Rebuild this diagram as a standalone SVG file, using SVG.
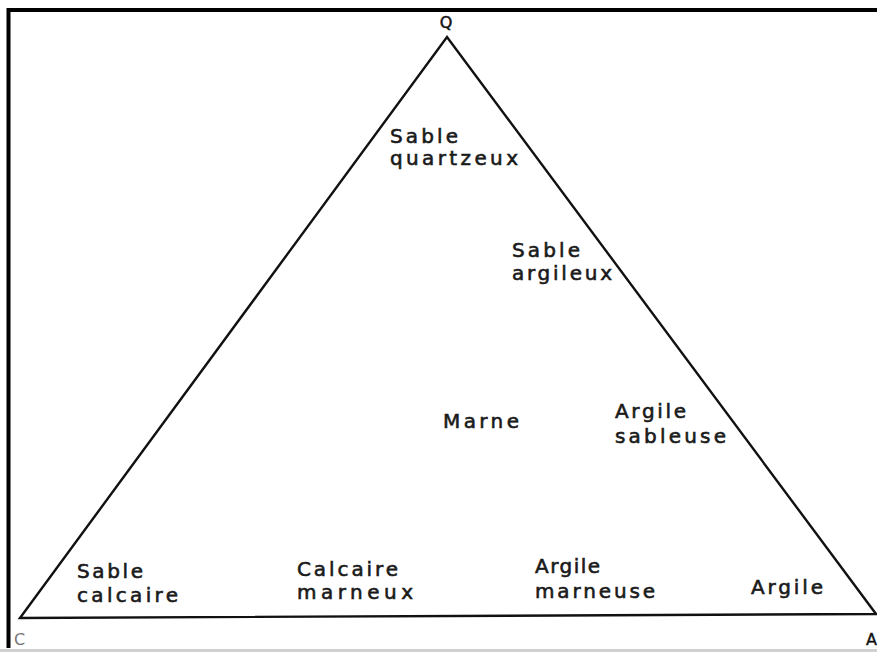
<svg xmlns="http://www.w3.org/2000/svg" width="877" height="652" viewBox="0 0 877 652">
<style>
.lbl{font-family:"DejaVu Sans","Liberation Sans",sans-serif;font-size:20px;fill:#1a1a1a;stroke:#1a1a1a;stroke-width:0.6px;}
.v{font-family:"DejaVu Sans","Liberation Sans",sans-serif;font-size:16px;}
</style>
<rect x="0" y="0" width="877" height="652" fill="#ffffff"/>
<rect x="0" y="649" width="877" height="3" fill="#d0d0d0"/>
<g id="frame" fill="none" stroke="#000" stroke-width="4">
<path d="M8.5,648 L8.5,10 L877,10"/>
</g>
<g id="connectors" fill="none" stroke="#111" stroke-width="2.4" stroke-linejoin="miter">
<path d="M20,618 L447,37 L876,614 Z"/>
</g>
<g id="vertex-Q"><text class="v" x="446" y="28" text-anchor="middle" fill="#111" stroke="#111" stroke-width="0.5">Q</text></g>
<g id="vertex-C"><text class="v" x="14" y="645" fill="#777">C</text></g>
<g id="vertex-A"><text class="v" x="866" y="645" fill="#111" stroke="#111" stroke-width="0.4">A</text></g>
<g id="sable-quartzeux">
<text class="lbl" x="390" y="143" textLength="68" lengthAdjust="spacing">Sable</text>
<text class="lbl" x="390" y="165" textLength="128" lengthAdjust="spacing">quartzeux</text>
</g>
<g id="sable-argileux">
<text class="lbl" x="512" y="257" textLength="68" lengthAdjust="spacing">Sable</text>
<text class="lbl" x="512" y="280" textLength="100" lengthAdjust="spacing">argileux</text>
</g>
<g id="marne">
<text class="lbl" x="443" y="428" textLength="76" lengthAdjust="spacing">Marne</text>
</g>
<g id="argile-sableuse">
<text class="lbl" x="615" y="418" textLength="71" lengthAdjust="spacing">Argile</text>
<text class="lbl" x="615" y="443" textLength="111" lengthAdjust="spacing">sableuse</text>
</g>
<g id="sable-calcaire">
<text class="lbl" x="77" y="578" textLength="66" lengthAdjust="spacing">Sable</text>
<text class="lbl" x="77" y="602" textLength="101" lengthAdjust="spacing">calcaire</text>
</g>
<g id="calcaire-marneux">
<text class="lbl" x="297" y="576" textLength="101" lengthAdjust="spacing">Calcaire</text>
<text class="lbl" x="297" y="599" textLength="116" lengthAdjust="spacing">marneux</text>
</g>
<g id="argile-marneuse">
<text class="lbl" x="535" y="573" textLength="65" lengthAdjust="spacing">Argile</text>
<text class="lbl" x="535" y="598" textLength="120" lengthAdjust="spacing">marneuse</text>
</g>
<g id="argile">
<text class="lbl" x="751" y="594" textLength="72" lengthAdjust="spacing">Argile</text>
</g>
</svg>
